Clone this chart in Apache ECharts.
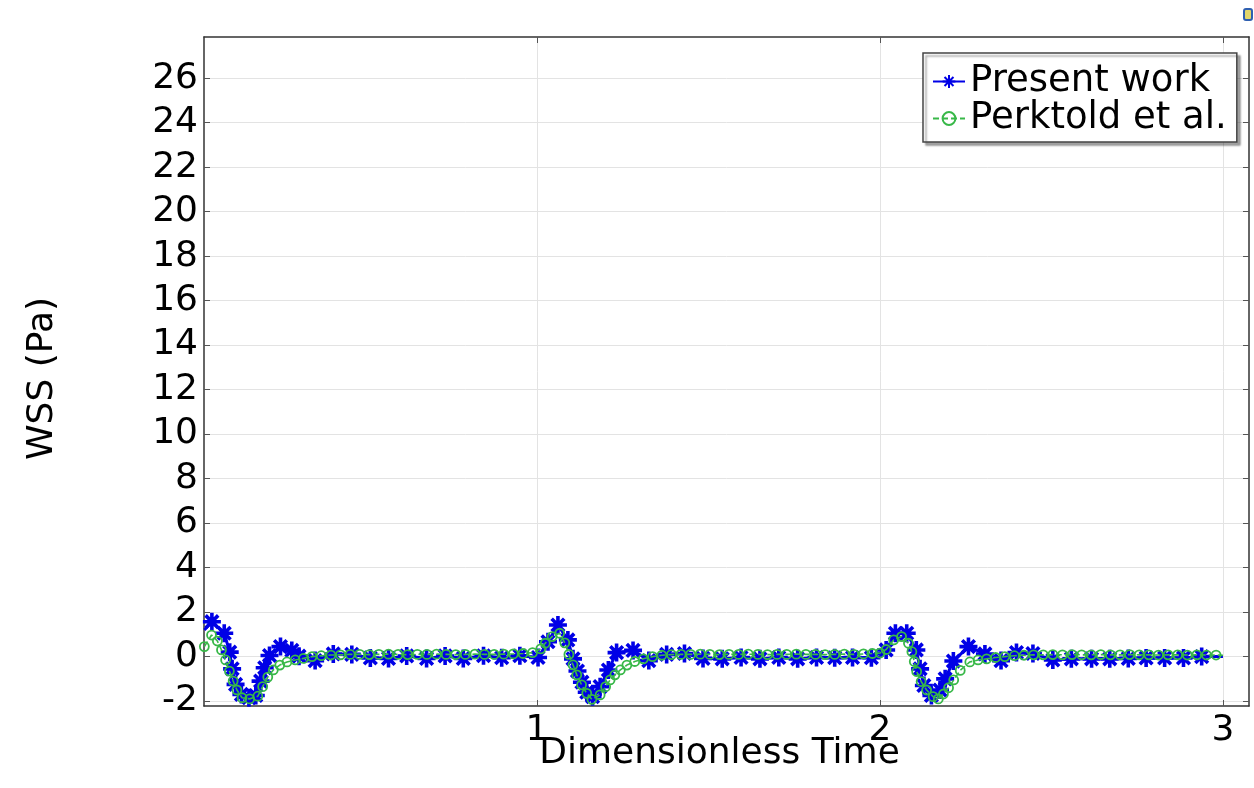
<!DOCTYPE html>
<html>
<head>
<meta charset="utf-8">
<title>WSS vs Dimensionless Time</title>
<script src="https://cdn.jsdelivr.net/npm/echarts@6/dist/echarts.min.js"></script>
<style>
  html, body { margin: 0; padding: 0; background: #fff; }
  #chart { width: 1254px; height: 788px; }
</style>
</head>
<body>
<div id="chart"></div>
<script>
// Wall shear stress over three cardiac cycles
const seriesNames = ['Present work', 'Perktold et al.'];

const presentTime = [
  0.030,
  0.052, 0.088, 0.104, 0.111, 0.121, 0.138, 0.160, 0.180, 0.194, 0.206, 0.220, 0.252, 0.285, 0.306,
  0.353, 0.406, 0.460, 0.514, 0.567, 0.620, 0.678, 0.732, 0.785, 0.844, 0.897, 0.950, 1.003,
  1.032, 1.061, 1.090, 1.105, 1.118, 1.131, 1.145, 1.162, 1.184, 1.208, 1.232, 1.280, 1.326,
  1.378, 1.430, 1.484, 1.540, 1.595, 1.650, 1.705, 1.760, 1.815, 1.868, 1.920, 1.975,
  2.018, 2.045, 2.078, 2.106, 2.117, 2.128, 2.150, 2.175, 2.190, 2.214, 2.258, 2.306, 2.353,
  2.398, 2.446, 2.504, 2.558, 2.617, 2.670, 2.724, 2.776, 2.830, 2.885, 2.938, 3.000
];
const presentWss = [
  1.20,
  1.57, 1.05, 0.20, -0.55, -1.25, -1.70, -1.85, -1.75, -1.10, -0.50, 0.05, 0.45, 0.28, 0.02,
  -0.18, 0.12, 0.10, -0.06, -0.08, 0.03, -0.08, 0.03, -0.08, 0.04, -0.05, 0.04, -0.04,
  0.67, 1.42, 0.75, -0.10, -0.65, -1.15, -1.60, -1.80, -1.35, -0.60, 0.18, 0.28, -0.18,
  0.10, 0.14, -0.08, -0.10, -0.04, -0.10, -0.04, -0.10, -0.04, -0.05, -0.04, -0.05,
  0.30, 1.05, 1.05, 0.30, -0.55, -1.30, -1.75, -1.50, -1.00, -0.20, 0.45, 0.12, -0.18,
  0.18, 0.14, -0.15, -0.10, -0.10, -0.10, -0.08, -0.06, -0.06, -0.06, 0.00, 0.00
];

const perktoldTime = [
  0.030, 0.051, 0.068, 0.080, 0.092, 0.103, 0.114, 0.125, 0.140, 0.162, 0.186, 0.200, 0.215,
  0.231, 0.250, 0.271, 0.295, 0.319, 0.344, 0.371, 0.399, 0.427, 0.455, 0.483, 0.511, 0.539,
  0.567, 0.595, 0.623, 0.651, 0.679, 0.707, 0.735, 0.763, 0.791, 0.819, 0.847, 0.875, 0.903,
  0.931, 0.959, 0.987,
  1.011, 1.024, 1.044, 1.066, 1.081, 1.093, 1.105, 1.116, 1.130, 1.145, 1.160, 1.184, 1.200,
  1.213, 1.227, 1.243, 1.262, 1.285, 1.310, 1.337, 1.364, 1.392, 1.420, 1.448, 1.476, 1.504,
  1.532, 1.560, 1.588, 1.616, 1.644, 1.672, 1.700, 1.728, 1.756, 1.784, 1.812, 1.840, 1.868,
  1.896, 1.924, 1.952, 1.978,
  2.000, 2.018, 2.040, 2.063, 2.083, 2.093, 2.100, 2.107, 2.120, 2.136, 2.155, 2.170, 2.185,
  2.200, 2.215, 2.234, 2.262, 2.286, 2.311, 2.337, 2.364, 2.392, 2.420, 2.448, 2.476, 2.504,
  2.532, 2.560, 2.588, 2.616, 2.644, 2.672, 2.700, 2.728, 2.756, 2.784, 2.812, 2.840, 2.868,
  2.896, 2.924, 2.952, 2.980, 3.000
];
const perktoldWss = [
  0.45, 0.97, 0.70, 0.30, -0.15, -0.65, -1.10, -1.50, -1.85, -1.90, -1.78, -1.35, -0.92,
  -0.60, -0.38, -0.24, -0.15, -0.08, 0.00, 0.04, 0.07, 0.08, 0.10, 0.10, 0.09, 0.10,
  0.11, 0.10, 0.09, 0.10, 0.10, 0.11, 0.10, 0.09, 0.10, 0.11, 0.10, 0.10, 0.11,
  0.12, 0.14, 0.18,
  0.35, 0.60, 0.90, 1.05, 0.62, 0.10, -0.37, -0.82, -1.27, -1.65, -1.92, -1.72, -1.35,
  -1.05, -0.82, -0.60, -0.38, -0.22, -0.10, 0.00, 0.06, 0.09, 0.10, 0.10, 0.11, 0.10,
  0.09, 0.10, 0.10, 0.11, 0.10, 0.09, 0.10, 0.10, 0.11, 0.10, 0.10, 0.09, 0.10,
  0.11, 0.10, 0.12, 0.14,
  0.16, 0.32, 0.75, 0.90, 0.60, 0.22, -0.22, -0.67, -1.12, -1.50, -1.80, -1.90, -1.68,
  -1.40, -1.05, -0.62, -0.24, -0.15, -0.10, -0.04, 0.00, 0.04, 0.06, 0.08, 0.08, 0.09,
  0.08, 0.09, 0.08, 0.08, 0.09, 0.08, 0.08, 0.09, 0.08, 0.08, 0.07, 0.08, 0.08,
  0.07, 0.08, 0.07, 0.07, 0.06
];

const xTickValues = [1, 2, 3];
const yTickValues = [-2, 0, 2, 4, 6, 8, 10, 12, 14, 16, 18, 20, 22, 24, 26];

const FONT = 'DejaVu Sans';
const BLUE = '#0000e6';
const GREEN = '#38b848';
const ASTERISK = 'path://M8,0L8,16M0,8L16,8M2.4,2.4L13.6,13.6M2.4,13.6L13.6,2.4';

// pair times with values; the ends of each curve carry no marker
function pairs(ts, vs, bareFirst) {
  const out = ts.map((t, i) => ({ value: [t, vs[i]] }));
  out[out.length - 1].symbol = 'none';
  if (bareFirst) out[0].symbol = 'none';
  return out;
}

const axisLineStyle = { color: '#333', width: 1.5 };
const tickStyle = { color: '#555', width: 1 };

const chart = echarts.init(document.getElementById('chart'), null, { renderer: 'canvas' });

chart.setOption({
  animation: false,
  backgroundColor: '#fff',
  textStyle: { fontFamily: FONT },
  grid: { left: 204, right: 5, top: 37, bottom: 82, containLabel: false, outerBoundsMode: 'none' },
  xAxis: [
    {
      type: 'value', position: 'bottom', min: 0.029, max: 3.076,
      name: 'Dimensionless Time', nameLocation: 'middle', nameGap: 30, nameMoveOverlap: false,
      nameTextStyle: { fontSize: 36, color: '#000', fontFamily: FONT, padding: [0, 14, 0, 0] },
      axisLine: { show: true, onZero: false, lineStyle: axisLineStyle },
      axisTick: { show: true, inside: true, length: 6, customValues: xTickValues, lineStyle: tickStyle },
      axisLabel: { show: true, customValues: xTickValues, fontSize: 36, color: '#000', margin: 7, fontFamily: FONT },
      splitLine: { show: true, lineStyle: { color: '#e3e3e3', width: 1 } }
    },
    {
      type: 'value', position: 'top', min: 0.029, max: 3.076,
      axisLine: { show: true, onZero: false, lineStyle: axisLineStyle },
      axisTick: { show: true, inside: true, length: 6, customValues: xTickValues, lineStyle: tickStyle },
      axisLabel: { show: false },
      splitLine: { show: false }
    }
  ],
  yAxis: [
    {
      type: 'value', position: 'left', min: -2.22, max: 27.85,
      name: 'WSS (Pa)', nameLocation: 'middle', nameGap: 143, nameMoveOverlap: false,
      nameTextStyle: { fontSize: 36, color: '#000', fontFamily: FONT, padding: [0, 14, 0, 0] },
      axisLine: { show: true, onZero: false, lineStyle: axisLineStyle },
      axisTick: { show: true, inside: true, length: 6, customValues: yTickValues, lineStyle: tickStyle },
      axisLabel: { show: true, customValues: yTickValues, fontSize: 36, color: '#000', margin: 6, fontFamily: FONT },
      splitLine: { show: true, lineStyle: { color: '#e3e3e3', width: 1 } }
    },
    {
      type: 'value', position: 'right', min: -2.22, max: 27.85,
      axisLine: { show: true, onZero: false, lineStyle: axisLineStyle },
      axisTick: { show: true, inside: true, length: 6, customValues: yTickValues, lineStyle: tickStyle },
      axisLabel: { show: false },
      splitLine: { show: false }
    }
  ],
  legend: {
    data: seriesNames,
    orient: 'vertical',
    left: 923, top: 53,
    padding: [10, 10, 5, 9],
    itemGap: 0,
    itemWidth: 32,
    itemHeight: 16,
    textStyle: { fontSize: 37, color: '#000', fontFamily: FONT, lineHeight: 37 },
    backgroundColor: '#fff',
    borderColor: '#444',
    borderWidth: 1.5,
    borderRadius: 0,
    shadowColor: 'rgba(0,0,0,0.35)',
    shadowBlur: 2,
    shadowOffsetX: 3,
    shadowOffsetY: 3
  },
  series: [
    {
      name: seriesNames[0],
      type: 'line',
      xAxisIndex: 0, yAxisIndex: 0,
      data: pairs(presentTime, presentWss, true),
      symbol: ASTERISK,
      symbolSize: 18,
      showAllSymbol: true,
      lineStyle: { color: BLUE, width: 3 },
      itemStyle: { color: BLUE, borderColor: BLUE, borderWidth: 3.6 },
      z: 2
    },
    {
      name: seriesNames[1],
      type: 'line',
      xAxisIndex: 0, yAxisIndex: 0,
      data: pairs(perktoldTime, perktoldWss, false),
      symbol: 'circle',
      symbolSize: 9,
      showAllSymbol: true,
      lineStyle: { color: GREEN, width: 1.6, type: [6, 3] },
      itemStyle: { color: 'rgba(255,255,255,0)', borderColor: GREEN, borderWidth: 1.8 },
      z: 3
    }
  ],
  graphic: [
    {
      type: 'rect',
      shape: { x: 1244, y: 9, width: 8, height: 11, r: 2 },
      style: { fill: '#e2d66a', stroke: '#2f5fb0', lineWidth: 2 }
    }
  ]
});
</script>
</body>
</html>
